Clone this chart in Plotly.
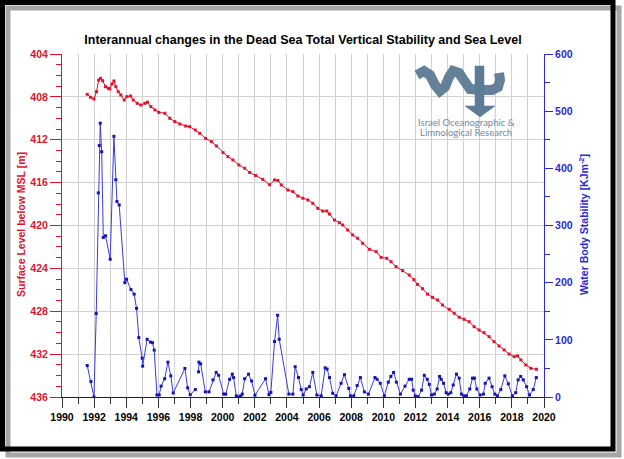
import plotly.graph_objects as go

# ---------------- data ----------------
level_years = [1991.57, 1991.78, 1991.99, 1992.15, 1992.28, 1992.40, 1992.53, 1992.71, 1992.88, 1992.98,
               1993.11, 1993.23, 1993.35, 1993.50, 1993.66, 1993.87, 1994.04, 1994.27, 1994.43, 1994.68,
               1994.91, 1995.16, 1995.32, 1995.53, 1995.78, 1996.02, 1996.40, 1996.71, 1997.02, 1997.33,
               1997.70, 1997.95, 1998.30, 1998.57, 1998.94, 1999.30, 1999.61, 2000.02, 2000.33, 2000.64,
               2001.01, 2001.37, 2001.68, 2002.05, 2002.50, 2002.92, 2003.23, 2003.44, 2003.65, 2004.06,
               2004.37, 2004.68, 2004.99, 2005.30, 2005.61, 2005.92, 2006.23, 2006.48, 2006.65, 2006.96,
               2007.27, 2007.47, 2007.78, 2008.09, 2008.40, 2008.71, 2009.13, 2009.55, 2009.86, 2010.21,
               2010.48, 2010.79, 2011.20, 2011.61, 2011.90, 2012.13, 2012.44, 2012.75, 2013.06, 2013.37,
               2013.68, 2014.10, 2014.41, 2014.72, 2015.03, 2015.34, 2015.65, 2015.96, 2016.27, 2016.58,
               2016.89, 2017.20, 2017.52, 2017.83, 2018.14, 2018.35, 2018.56, 2018.87, 2019.18, 2019.53]
sea_level = [407.76, 408.04, 408.20, 407.52, 406.43, 406.27, 406.49, 407.05, 407.20, 407.26,
             406.80, 406.52, 407.05, 407.52, 407.82, 408.29, 407.98, 407.92, 408.29, 408.60,
             408.76, 408.60, 408.50, 408.91, 409.22, 409.44, 409.53, 410.00, 410.31, 410.53,
             410.72, 410.78, 411.09, 411.40, 411.87, 412.18, 412.58, 413.20, 413.58, 413.89,
             414.35, 414.66, 415.05, 415.33, 415.70, 416.20, 415.75, 415.80, 416.22, 416.69,
             416.84, 417.25, 417.46, 417.62, 417.93, 418.40, 418.65, 418.65, 418.93, 419.49,
             419.74, 419.95, 420.42, 420.88, 421.19, 421.66, 422.22, 422.44, 422.97, 423.06,
             423.38, 423.84, 424.21, 424.62, 425.05, 425.50, 425.90, 426.40, 426.70, 426.95,
             427.41, 427.82, 428.19, 428.56, 428.75, 428.97, 429.44, 429.75, 430.00, 430.37,
             430.84, 431.24, 431.61, 431.99, 432.24, 432.17, 432.54, 433.01, 433.32, 433.41]

stab_years = [1991.57, 1991.80, 1991.99, 1992.13, 1992.26, 1992.32, 1992.38, 1992.47, 1992.57, 1992.71,
              1993.00, 1993.23, 1993.35, 1993.42, 1993.56, 1993.91, 1994.02, 1994.29, 1994.49, 1994.64,
              1994.78, 1994.99, 1995.02, 1995.30, 1995.51, 1995.63, 1995.74, 1995.91, 1996.05, 1996.17,
              1996.39, 1996.59, 1996.77, 1996.92, 1997.65, 1997.82, 1997.98, 1998.30, 1998.40, 1998.50,
              1998.52, 1998.63, 1998.92, 1999.15, 1999.40, 1999.60, 1999.75, 2000.06, 2000.19, 2000.43,
              2000.60, 2000.68, 2000.85, 2000.99, 2001.12, 2001.22, 2001.37, 2001.61, 2001.80, 2002.01,
              2002.67, 2002.88, 2003.00, 2003.23, 2003.42, 2003.52, 2004.12, 2004.37, 2004.51, 2004.72,
              2004.89, 2005.01, 2005.20, 2005.40, 2005.61, 2005.86, 2006.13, 2006.38, 2006.50, 2006.65,
              2006.85, 2007.06, 2007.37, 2007.58, 2007.85, 2007.95, 2008.16, 2008.37, 2008.57, 2008.82,
              2009.07, 2009.48, 2009.61, 2009.81, 2010.06, 2010.31, 2010.47, 2010.64, 2010.81, 2011.06,
              2011.35, 2011.61, 2011.76, 2011.86, 2011.99, 2012.17, 2012.38, 2012.55, 2012.73, 2012.86,
              2013.00, 2013.17, 2013.35, 2013.50, 2013.60, 2013.75, 2013.91, 2014.04, 2014.20, 2014.35,
              2014.55, 2014.72, 2014.86, 2015.01, 2015.17, 2015.38, 2015.55, 2015.67, 2015.82, 2016.02,
              2016.23, 2016.34, 2016.58, 2016.77, 2016.94, 2017.10, 2017.31, 2017.56, 2017.78, 2018.03,
              2018.24, 2018.39, 2018.55, 2018.71, 2018.92, 2019.10, 2019.33, 2019.52]
stability = [55, 27, 0, 146, 357, 440, 479, 429, 279, 282,
             241, 456, 380, 342, 336, 200, 206, 188, 180, 155,
             104, 68, 54, 101, 96, 95, 82, 3.5, 3.5, 19,
             32, 61, 37, 7, 50, 16, 4, 13, None, 44,
             61, 58, 9, 9, 30, 43, 38, 5, 5, 31,
             40, 34, 2, 0, 2, 5, 32, 40, 28, 3,
             32, 4, 8, 97, 143, 101, 5, 5, 53, 34,
             13, 3.5, 14, 18, 43, 3.5, 2, 51, 49, 34,
             6.5, 2, 24, 39, 15, 2, 2, 20, 34, 9,
             5, 34, 31, 24, 2, 26, 36, 43, 26, 5,
             19, 31, 31, 12, 2, 0.5, 12, 38, 31, 22,
             3.5, 5, 14, 36, 31, 24, 7.5, 5, 7.5, 21,
             40, 33, 5, 2, 2, 14, 33, 33, 14, 3.5,
             5, 24, 33, 18, 5, 2, 13, 37, 23, 2,
             7.5, 30, 36, 30, 18, 3.5, 13, 34]

x_ticks = list(range(1990, 2021, 2))
title_text = "Interannual changes in the Dead Sea Total Vertical Stability and Sea Level"
left_title = "Surface Level below MSL [m]"
right_title = "Water Body Stability [KJm<sup>-2</sup>]"

# ---------------- layout geometry ----------------
W, H = 624, 459
L, R, T, B = 62, 80, 54, 62
PW, PH = W - L - R, H - T - B

def px(x):
    return (x - L) / PW

def py(y):
    return (H - B - y) / PH

def path(points, close=False):
    s = "M " + " L ".join(f"{px(a):.5f},{py(b):.5f}" for a, b in points)
    return s + (" Z" if close else "")

RED = "#e4102c"
BLUE = "#2a2ad8"
FONT = "Liberation Sans, Arial, sans-serif"

fig = go.Figure()
fig.add_trace(go.Scatter(x=stab_years, y=stability, yaxis="y2", mode="lines+markers",
                         line=dict(color="#3b3be0", width=1), connectgaps=False,
                         marker=dict(symbol="square", size=3, color="#1414b4"),
                         showlegend=False))
fig.add_trace(go.Scatter(x=level_years, y=sea_level, mode="lines+markers",
                         line=dict(color=RED, width=1),
                         marker=dict(symbol="square", size=3, color=RED),
                         showlegend=False))

grid = "#d2d2d2"
fig.update_layout(
    width=W, height=H, margin=dict(l=L, r=R, t=T, b=B),
    paper_bgcolor="white", plot_bgcolor="white",
    font=dict(family=FONT),
    title=dict(text=title_text, x=px(303), xref="paper", xanchor="center",
               y=1 - 40 / H, yref="container", yanchor="middle",
               font=dict(size=12.5, color="black", weight="bold")),
    xaxis=dict(range=[1990, 2020], tickvals=x_ticks, showline=True, linecolor="#222",
               linewidth=1, ticks="outside", ticklen=10, tickcolor="#333",
               showgrid=True, gridcolor=grid, gridwidth=1, zeroline=False,
               tickfont=dict(size=10.5, color="black", weight="bold"),
               minor=dict(dtick=1, tick0=1990, ticks="outside", ticklen=6, tickcolor="#333",
                          showgrid=True, gridcolor=grid, gridwidth=1)),
    yaxis=dict(range=[436, 404], tick0=404, dtick=4, showline=True, linecolor=RED,
               linewidth=1, ticks="outside", ticklen=11, tickcolor=RED,
               showgrid=True, gridcolor=grid, gridwidth=1, zeroline=False,
               tickfont=dict(size=10.5, color=RED, weight="bold"),
               minor=dict(dtick=1, tick0=404, ticks="outside", ticklen=5, tickcolor=RED,
                          showgrid=False)),
    yaxis2=dict(range=[0, 600], tick0=0, dtick=100, overlaying="y", side="right",
                showline=True, linecolor=BLUE, linewidth=1, ticks="outside", ticklen=8,
                tickcolor=BLUE, showgrid=False, zeroline=False,
                tickfont=dict(size=10.5, color=BLUE, weight="bold"),
                minor=dict(dtick=50, tick0=0, ticks="outside", ticklen=5, tickcolor=BLUE)),
)

# axis titles
fig.add_annotation(text=left_title, x=px(21), y=py(225), xref="paper", yref="paper",
                   xanchor="center", yanchor="middle", textangle=-90, showarrow=False,
                   font=dict(size=10.5, color=RED, weight="bold", family=FONT))
fig.add_annotation(text=right_title, x=px(584), y=py(225), xref="paper", yref="paper",
                   xanchor="center", yanchor="middle", textangle=-90, showarrow=False,
                   font=dict(size=10.5, color=BLUE, weight="bold", family=FONT))

# logo (Israel Oceanographic & Limnological Research)
LOGO = "#5d7b94"
wave = [(417, 75), (424, 71), (430, 75), (435, 85), (440, 91), (445, 87), (449, 77), (453, 71),
        (459, 73), (465, 82), (470, 89), (480, 90), (492, 90), (498, 87), (500, 80), (499, 73)]
fig.add_shape(type="path", xref="paper", yref="paper", path=path(wave),
              line=dict(color=LOGO, width=10), opacity=0.95)
fig.add_shape(type="path", xref="paper", yref="paper",
              path=path([(475, 66), (484, 66), (484, 106), (495, 106), (480, 117), (465, 106), (475, 106)], close=True),
              fillcolor=LOGO, line=dict(color=LOGO, width=0.5))
fig.add_annotation(text="Israel Oceanographic &", x=px(466), y=py(122), xref="paper", yref="paper",
                   xanchor="center", yanchor="middle", showarrow=False,
                   font=dict(size=9.5, color="#6e8aa3", family="Lato, sans-serif"))
fig.add_annotation(text="Limnological Research", x=px(466), y=py(132), xref="paper", yref="paper",
                   xanchor="center", yanchor="middle", showarrow=False,
                   font=dict(size=9.5, color="#6e8aa3", family="Lato, sans-serif"))

# picture frame with shadow
fig.add_shape(type="rect", xref="paper", yref="paper",
              x0=px(8), x1=px(619), y0=py(8), y1=py(455),
              line=dict(color="rgba(0,0,0,0.35)", width=5), layer="above")
fig.add_shape(type="rect", xref="paper", yref="paper",
              x0=px(2.5), x1=px(613), y0=py(2.5), y1=py(449),
              line=dict(color="black", width=5), layer="above")

fig.write_html("out.html")
